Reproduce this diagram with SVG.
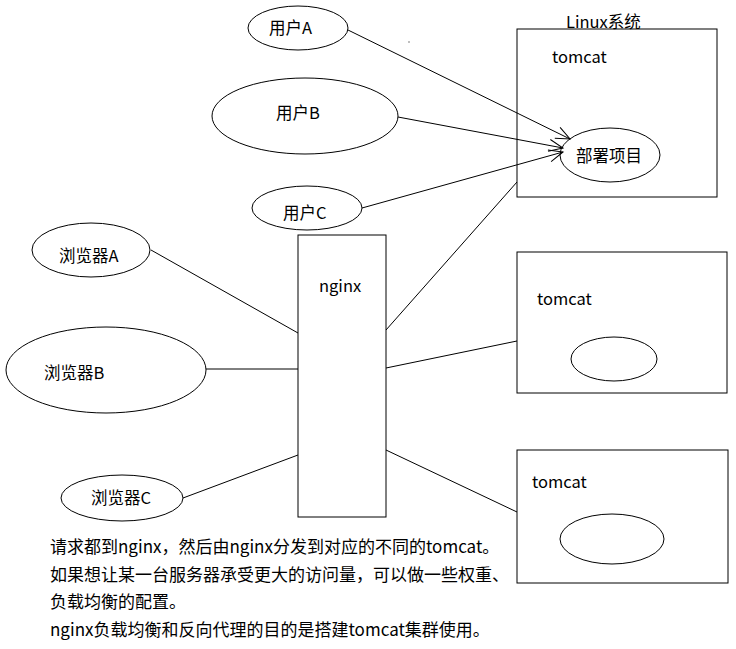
<svg xmlns="http://www.w3.org/2000/svg" width="736" height="649" viewBox="0 0 736 649">
<style>
.s{fill:none;stroke:#000;stroke-width:1}
.b{fill:#fff;stroke:#000;stroke-width:1}
text{font-family:"Noto Sans CJK SC","Noto Sans",sans-serif;font-size:16.5px;fill:#000}
.p{font-size:17px}
</style>
<defs>
<marker id="ah" viewBox="-16 -8 18 16" refX="0" refY="0" markerWidth="18" markerHeight="16" markerUnits="userSpaceOnUse" orient="auto">
<path d="M-14,-6 L0,0 L-14,6" fill="none" stroke="#000" stroke-width="1"/>
</marker>
</defs>
<rect width="736" height="649" fill="#fff"/>
<g id="linux">
<rect class="b" x="517" y="29" width="200" height="168"/>
<text x="566" y="28">Linux系统</text>
<text x="552" y="63">tomcat</text>
</g>
<g id="deploy">
<ellipse class="b" cx="610" cy="155" rx="50" ry="27"/>
<text x="576" y="162">部署项目</text>
</g>
<g id="tomcat2">
<rect class="b" x="517" y="252" width="210" height="141"/>
<text x="537" y="305">tomcat</text>
<ellipse class="s" cx="614" cy="359" rx="43" ry="22"/>
</g>
<g id="tomcat3">
<rect class="b" x="517" y="450" width="211" height="133"/>
<text x="532" y="488">tomcat</text>
<ellipse class="s" cx="612" cy="539" rx="52" ry="25"/>
</g>
<g id="userA">
<ellipse class="b" cx="298" cy="28" rx="50" ry="22"/>
<text x="269" y="34">用户A</text>
</g>
<g id="userB">
<ellipse class="b" cx="305" cy="116" rx="93" ry="38"/>
<text x="276" y="119">用户B</text>
</g>
<g id="userC">
<ellipse class="b" cx="307" cy="208" rx="55" ry="22"/>
<text x="283" y="219">用户C</text>
</g>
<g id="nginx">
<rect class="b" x="298" y="235" width="88" height="282"/>
<text x="319" y="292">nginx</text>
</g>
<g id="browserA">
<ellipse class="b" cx="91" cy="250" rx="59" ry="27"/>
<text x="59" y="262">浏览器A</text>
</g>
<g id="browserB">
<ellipse class="b" cx="106" cy="370" rx="100" ry="43"/>
<text x="44" y="379">浏览器B</text>
</g>
<g id="browserC">
<ellipse class="b" cx="122" cy="498" rx="61" ry="23"/>
<text x="91" y="504">浏览器C</text>
</g>
<g id="connectors">
<line class="s" x1="348" y1="30" x2="570" y2="139" marker-end="url(#ah)"/>
<line class="s" x1="398" y1="117" x2="563" y2="148" marker-end="url(#ah)"/>
<line class="s" x1="362" y1="208" x2="563" y2="152" marker-end="url(#ah)"/>
<line class="s" x1="386" y1="330" x2="517" y2="182"/>
<line class="s" x1="386" y1="368" x2="517" y2="341"/>
<line class="s" x1="386" y1="450" x2="517" y2="512"/>
<line class="s" x1="151" y1="250" x2="298" y2="333"/>
<line class="s" x1="206" y1="369" x2="298" y2="369"/>
<line class="s" x1="183" y1="498" x2="298" y2="455"/>
</g>
<rect x="408.5" y="41.5" width="1" height="1" fill="#000"/>
<g id="notes">
<text class="p" x="50" y="553">请求都到nginx，然后由nginx分发到对应的不同的tomcat。</text>
<text class="p" x="50" y="581">如果想让某一台服务器承受更大的访问量，可以做一些权重、</text>
<text class="p" x="50" y="608">负载均衡的配置。</text>
<text class="p" x="50" y="636">nginx负载均衡和反向代理的目的是搭建tomcat集群使用。</text>
</g>
</svg>
